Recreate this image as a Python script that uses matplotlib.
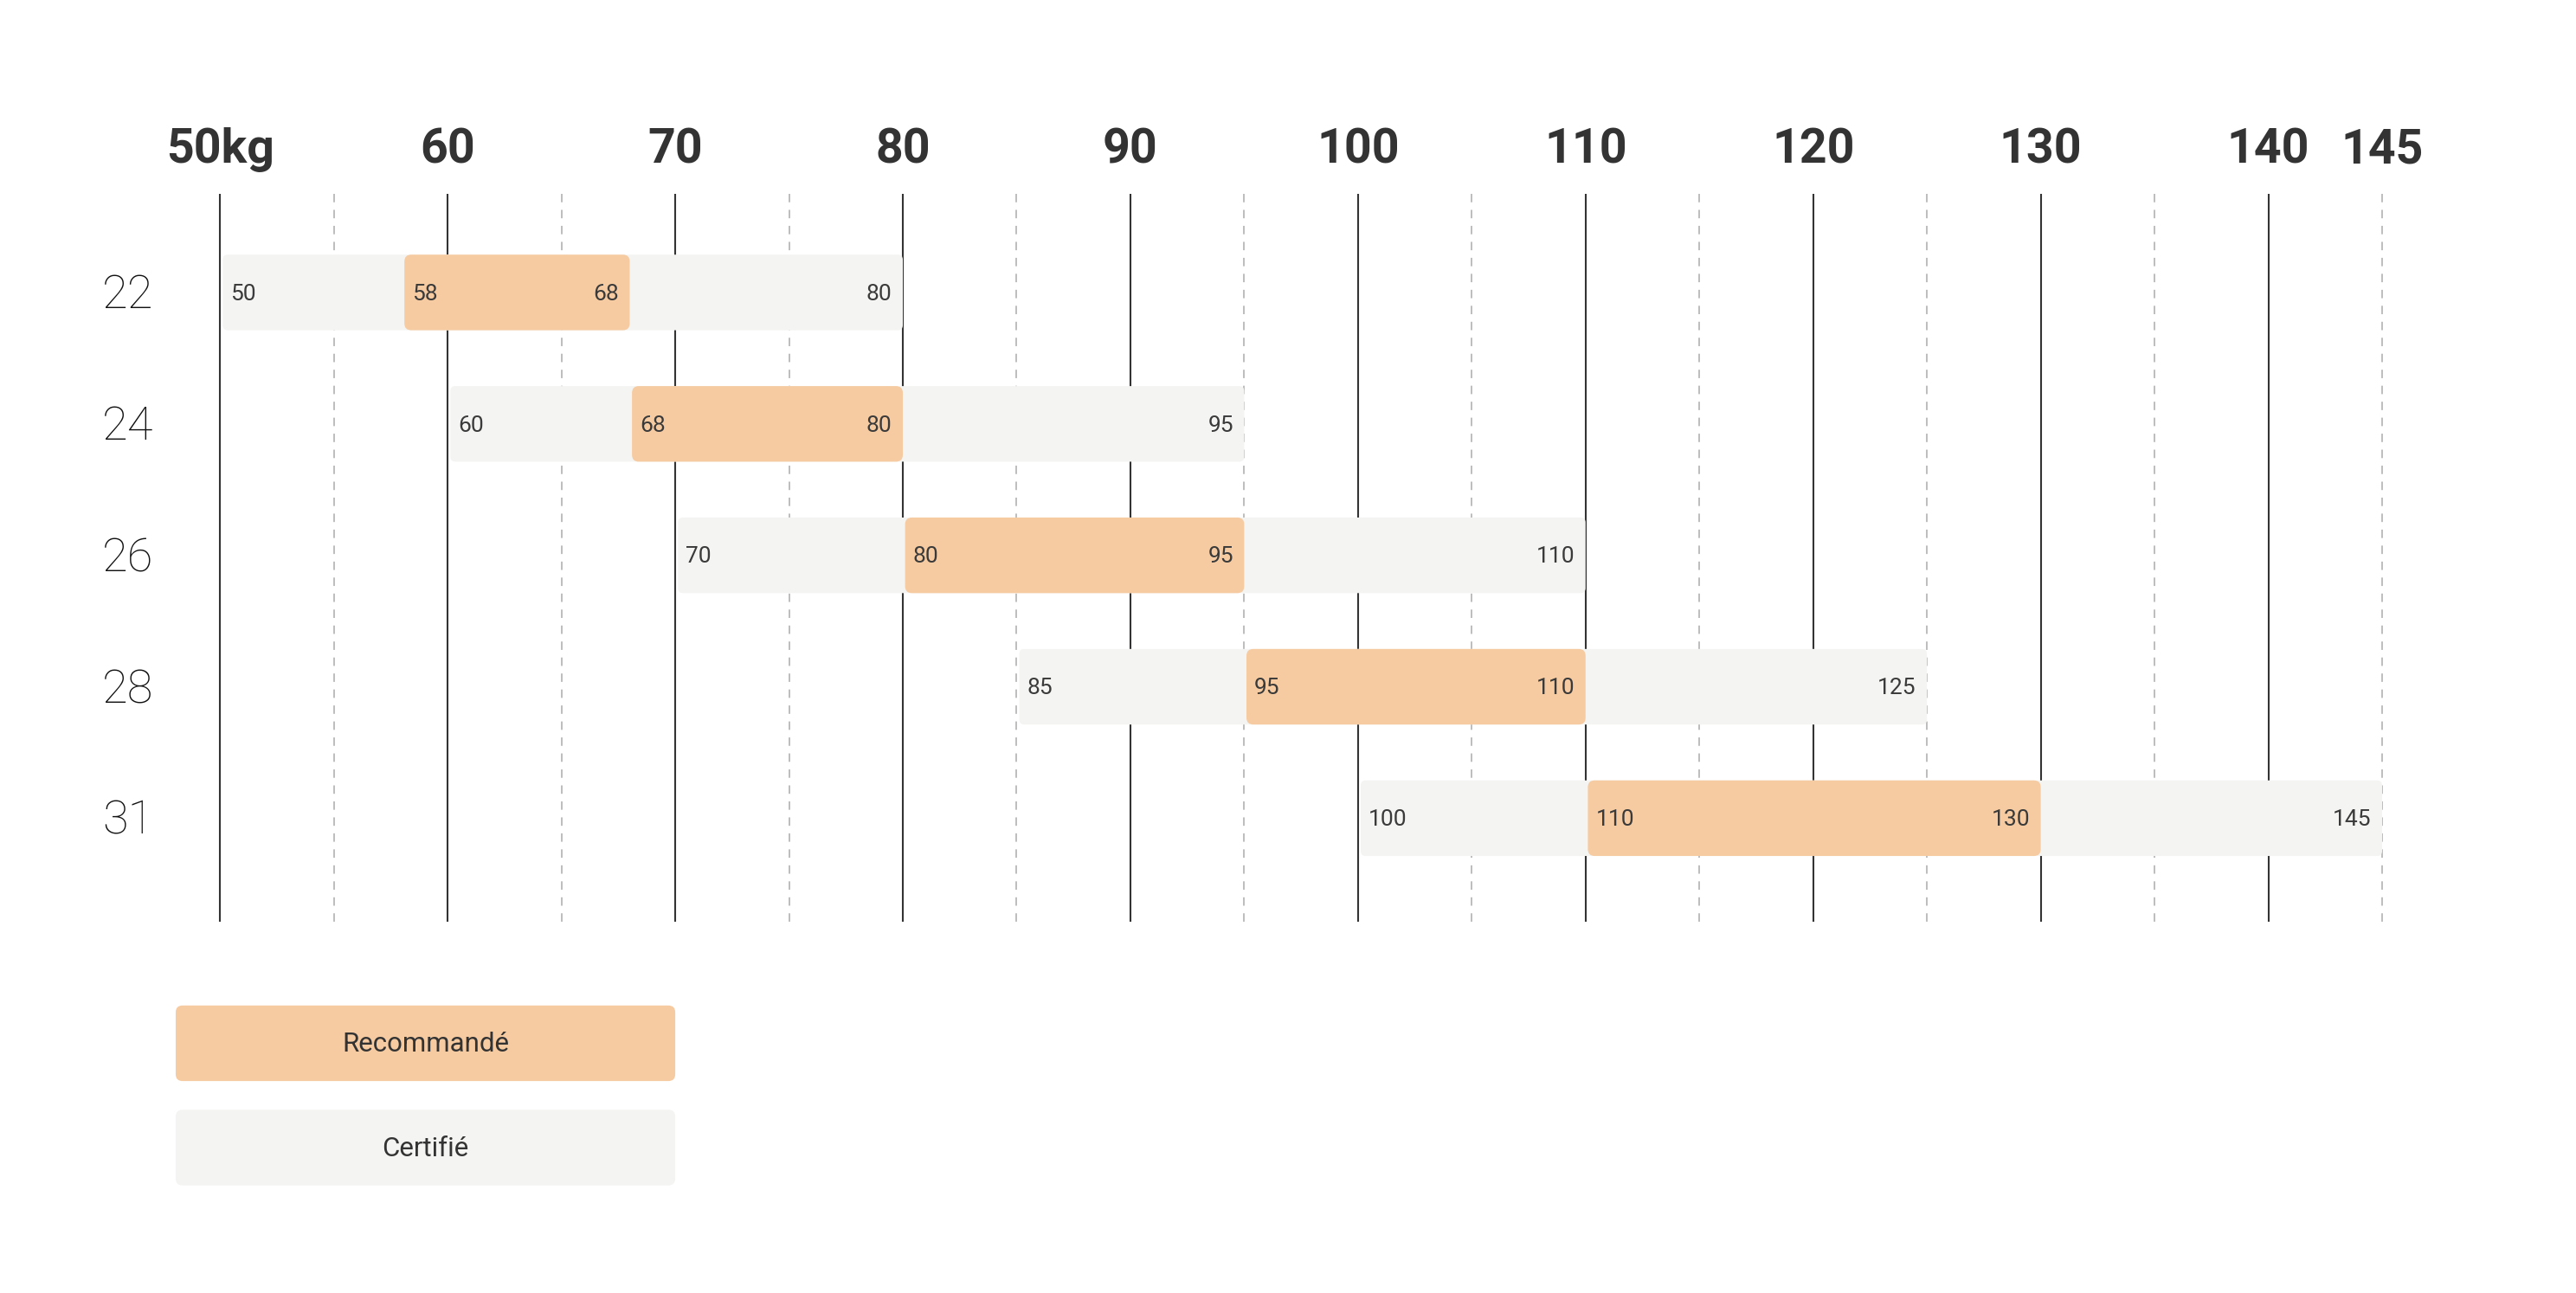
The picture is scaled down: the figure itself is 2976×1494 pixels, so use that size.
import matplotlib
matplotlib.use("Agg")
import matplotlib.pyplot as plt
from matplotlib.patches import FancyBboxPatch

# ---- data ----
sizes = ["22", "24", "26", "28", "31"]
cert_min = [50, 60, 70, 85, 100]
cert_max = [80, 95, 110, 125, 145]
rec_min = [58, 68, 80, 95, 110]
rec_max = [68, 80, 95, 110, 130]
tick_values = [50, 60, 70, 80, 90, 100, 110, 120, 130, 140, 145]
tick_labels = ["50kg", "60", "70", "80", "90", "100", "110", "120", "130", "140", "145"]
solid_lines = [50, 60, 70, 80, 90, 100, 110, 120, 130, 140]
dashed_lines = [55, 65, 75, 85, 95, 105, 115, 125, 135, 145]
legend_labels = ["Recommandé", "Certifié"]

# ---- style ----
ORANGE = "#F6CBA1"
GREY = "#F4F4F2"
DARK = "#333333"
TXT = "#3a3a3a"
DASH = "#BDBDBD"
FONT = "Roboto"

plt.rcParams["font.family"] = [FONT, "DejaVu Sans"]

fig = plt.figure(figsize=(29.76, 14.94), dpi=100)
ax = fig.add_axes([0, 0, 1, 1])
ax.set_xlim(40.33, 153.52)
ax.set_ylim(7.6125, -2.225)
ax.axis("off")

# pixel -> data aspect for rounded corners
px_x = 1.0 / 13.853
px_y = 1.0 / 80.0
aspect = px_y / px_x

y_top, y_bot = -0.75, 4.7875
for v in solid_lines:
    ax.plot([v, v], [y_top, y_bot], color=DARK, lw=1.5, zorder=1, solid_capstyle="butt")
for v in dashed_lines:
    ax.plot([v, v], [y_top, y_bot], color=DASH, lw=1.4, zorder=1,
            linestyle=(0, (5, 4.5)))

for v, lab in zip(tick_values, tick_labels):
    ax.text(v, -1.085, lab, ha="center", va="center", fontsize=40,
            fontweight="bold", color=DARK)

bar_h = 0.575
pad_l = 0.45
pad_r = 0.48
for i, s in enumerate(sizes):
    ax.text(45.96, i + 0.025, s, ha="center", va="center", fontsize=39,
            fontweight="light", color="#111111")
    # certified (grey) bar
    g = FancyBboxPatch((cert_min[i] + 0.12, i - bar_h / 2), cert_max[i] - cert_min[i] - 0.12, bar_h,
                       boxstyle="round,pad=0,rounding_size=0.22", mutation_aspect=aspect,
                       facecolor=GREY, edgecolor="none", zorder=2)
    ax.add_patch(g)
    # recommended (orange) bar
    o = FancyBboxPatch((rec_min[i] + 0.1, i - bar_h / 2), rec_max[i] - rec_min[i] - 0.1, bar_h,
                       boxstyle="round,pad=0,rounding_size=0.3", mutation_aspect=aspect,
                       facecolor=ORANGE, edgecolor="none", zorder=3)
    ax.add_patch(o)
    yl = i + 0.012
    ax.text(cert_min[i] + pad_l, yl, str(cert_min[i]), ha="left", va="center",
            fontsize=19, fontweight="normal", color=TXT, zorder=4)
    ax.text(cert_max[i] - pad_r, yl, str(cert_max[i]), ha="right", va="center",
            fontsize=19, fontweight="normal", color=TXT, zorder=4)
    ax.text(rec_min[i] + pad_l, yl, str(rec_min[i]), ha="left", va="center",
            fontsize=19, fontweight="normal", color=TXT, zorder=4)
    ax.text(rec_max[i] - pad_r, yl, str(rec_max[i]), ha="right", va="center",
            fontsize=19, fontweight="normal", color=TXT, zorder=4)

# legend
leg_x0, leg_x1 = 48.05, 70.0
leg_y = [5.7125, 6.50625]
leg_colors = [ORANGE, GREY]
for yc, col, lab in zip(leg_y, leg_colors, legend_labels):
    p = FancyBboxPatch((leg_x0, yc - bar_h / 2), leg_x1 - leg_x0, bar_h,
                       boxstyle="round,pad=0,rounding_size=0.3", mutation_aspect=aspect,
                       facecolor=col, edgecolor="none", zorder=2)
    ax.add_patch(p)
    ax.text((leg_x0 + leg_x1) / 2, yc + 0.01, lab, ha="center", va="center",
            fontsize=22.5, color=DARK, zorder=3)

fig.savefig("out.png", dpi=100, facecolor="white")
